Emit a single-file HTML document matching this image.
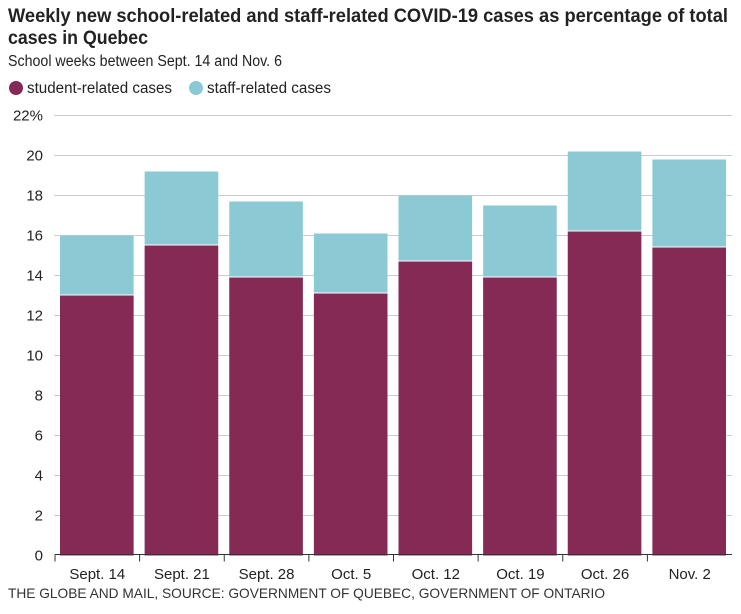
<!DOCTYPE html>
<html><head><meta charset="utf-8"><style>
body{margin:0;background:#fff;font-family:"Liberation Sans",sans-serif;}
svg text{font-family:"Liberation Sans",sans-serif;}
</style></head><body>
<svg width="741" height="609">
<text x="8" y="22" font-size="19" font-weight="bold" fill="#222" textLength="720" lengthAdjust="spacingAndGlyphs">Weekly new school-related and staff-related COVID-19 cases as percentage of total</text>
<text x="8" y="44" font-size="19" font-weight="bold" fill="#222" textLength="140" lengthAdjust="spacingAndGlyphs">cases in Quebec</text>
<text x="8" y="66" font-size="15.5" fill="#222" textLength="274" lengthAdjust="spacingAndGlyphs">School weeks between Sept. 14 and Nov. 6</text>
<g>
<circle cx="16" cy="88" r="7" fill="#842a55"/>
<text x="27" y="93" font-size="15.5" fill="#222" textLength="145" lengthAdjust="spacingAndGlyphs">student-related cases</text>
<circle cx="196" cy="88" r="7" fill="#8bcad4"/>
<text x="207" y="93" font-size="15.5" fill="#222" textLength="124" lengthAdjust="spacingAndGlyphs">staff-related cases</text>
</g>
<g id="grid"></g><g id="bars"></g><g id="axis"></g>
<text x="8" y="598" font-size="14" fill="#333" textLength="597" lengthAdjust="spacingAndGlyphs">THE GLOBE AND MAIL, SOURCE: GOVERNMENT OF QUEBEC, GOVERNMENT OF ONTARIO</text>
</svg>
<script>
const categories=["Sept. 14","Sept. 21","Sept. 28","Oct. 5","Oct. 12","Oct. 19","Oct. 26","Nov. 2"];
const studentValues=[13.0,15.5,13.9,13.1,14.7,13.9,16.2,15.4];
const staffValues=[3.0,3.7,3.8,3.0,3.3,3.6,4.0,4.4];
const yTicks=[0,2,4,6,8,10,12,14,16,18,20,22];
const NS="http://www.w3.org/2000/svg";
const x0=55,x1=732,y0=555.5,yMax=22,yTop=115.5;
const band=(x1-x0)/categories.length;
const xPos=i=>x0+i*band;
const yPos=v=>y0-(v/yMax)*(y0-yTop);
function mk(t,a,p){const e=document.createElementNS(NS,t);for(const k in a)e.setAttribute(k,a[k]);p.appendChild(e);return e;}
const grid=document.getElementById('grid'),bars=document.getElementById('bars'),axis=document.getElementById('axis');
yTicks.forEach(v=>{
 if(v>0){const l=mk('line',{x1:54,x2:732,y1:yPos(v),y2:yPos(v),stroke:'#ccc','stroke-width':1},grid);
 
 }
 const t=mk('text',{x:43,y:yPos(v)+5,'font-size':15,'text-anchor':'end',fill:'#222'},grid);
 t.textContent=v===22?'22%':v;
 
 
});
categories.forEach((c,i)=>{
 const bx=xPos(i)+5,bw=band-11;
 const s=mk('rect',{x:bx,y:yPos(studentValues[i]),width:bw,height:y0-yPos(studentValues[i]),fill:'#842a55'},bars);
 
 
 const tot=studentValues[i]+staffValues[i];
 const f=mk('rect',{x:bx,y:yPos(tot),width:bw,height:yPos(studentValues[i])-yPos(tot)-1,fill:'#8bcad4'},bars);
 
 
 const tk=mk('line',{x1:xPos(i),x2:xPos(i),y1:y0-1,y2:y0+6,stroke:'#333','stroke-width':1},axis);
 
 
 const t=mk('text',{x:xPos(i)+band/2,y:579,'font-size':15,'text-anchor':'middle',fill:'#222'},axis);
 t.textContent=c;
 
 
});
const ax=mk('line',{x1:x0,x2:x1,y1:y0-1,y2:y0-1,stroke:'#333','stroke-width':1},axis);


</script>
</body></html>
